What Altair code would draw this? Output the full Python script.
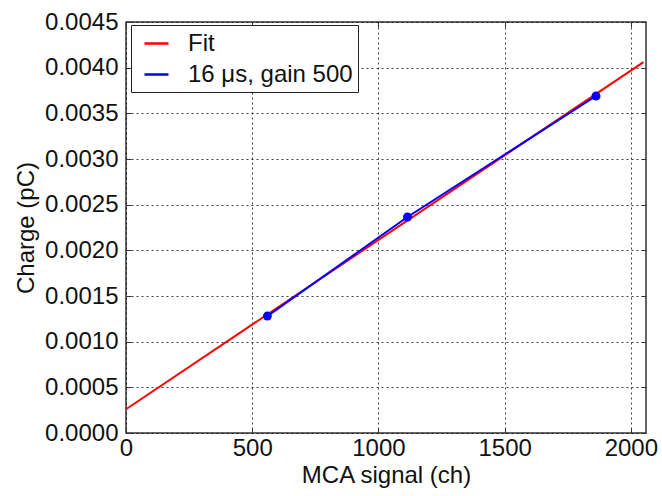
import altair as alt
import pandas as pd

# Data
data_x = [560, 1115, 1862]
data_y = [0.00128, 0.002365, 0.00369]
fit_x = [0, 2050]
fit_y = [0.00026, 0.00406]
x_ticks = [0, 500, 1000, 1500, 2000]
y_ticks = [0.0, 0.0005, 0.001, 0.0015, 0.002, 0.0025, 0.003, 0.0035, 0.004, 0.0045]
series_names = ["Fit", "16 \u03bcs, gain 500"]
series_colors = ["#ff0000", "#0000ff"]

FONT = "Liberation Sans"
FS = 24

df_data = pd.DataFrame({"x": data_x, "y": data_y})
df_fit = pd.DataFrame({"x": fit_x, "y": fit_y})

xscale = alt.Scale(domain=[0, 2060], nice=False, zero=False)
yscale = alt.Scale(domain=[0, 0.0045], nice=False)

main_xaxis = alt.Axis(
    title="MCA signal (ch)", values=x_ticks, format="d", grid=True,
    gridColor="#000000", gridDash=[2, 3], gridOpacity=0.75, gridWidth=1,
    domain=False, offset=-5, tickSize=5, tickColor="#333333", tickWidth=1,
    labelPadding=3, labelFontSize=FS, labelFont=FONT, labelColor="#111111",
    titleFontSize=FS, titleFont=FONT, titleFontWeight="normal", titleColor="#111111",
    titlePadding=3, labelFlush=False,
)
main_yaxis = alt.Axis(
    title="Charge (pC)", values=y_ticks, format=".4f", grid=True,
    gridColor="#000000", gridDash=[2, 3], gridOpacity=0.75, gridWidth=1,
    domain=False, offset=-5, tickSize=5, tickColor="#333333", tickWidth=1,
    labelPadding=8, labelFontSize=FS, labelFont=FONT, labelColor="#111111",
    titleFontSize=FS, titleFont=FONT, titleFontWeight="normal", titleColor="#111111",
    titlePadding=6, labelFlush=False,
)

color_scale = alt.Scale(domain=series_names, range=series_colors)
legend = alt.Legend(
    title=None, orient="none", legendX=5, legendY=3,
    symbolType="stroke", symbolSize=576, symbolStrokeWidth=2.5, symbolOffset=7,
    labelFontSize=FS, labelFont=FONT, labelColor="#111111", labelLimit=400,
    strokeColor="#222222", fillColor="#ffffff", padding=5,
    rowPadding=5, labelOffset=18, cornerRadius=0,
)

fit = alt.Chart(df_fit).mark_line(strokeWidth=2).encode(
    x=alt.X("x:Q", scale=xscale, axis=main_xaxis),
    y=alt.Y("y:Q", scale=yscale, axis=main_yaxis),
    color=alt.Color("s:N", scale=color_scale, legend=legend),
).transform_calculate(s="'Fit'")

line = alt.Chart(df_data).mark_line(strokeWidth=2).encode(
    x=alt.X("x:Q", scale=xscale, axis=None),
    y=alt.Y("y:Q", scale=yscale, axis=None),
    color=alt.Color("s:N", scale=color_scale, legend=legend),
).transform_calculate(s="'16 \u03bcs, gain 500'")

pts = alt.Chart(df_data).mark_point(filled=True, size=80, opacity=1, color="#0000ff").encode(
    x=alt.X("x:Q", scale=xscale, axis=None),
    y=alt.Y("y:Q", scale=yscale, axis=None),
)

side_axes = alt.Chart(df_fit).mark_point(opacity=0).encode(
    x=alt.X("x:Q", scale=xscale, axis=alt.Axis(
        orient="top", title=None, labels=False, values=x_ticks, grid=False,
        domain=False, offset=-5, tickSize=5, tickColor="#333333")),
    y=alt.Y("y:Q", scale=yscale, axis=alt.Axis(
        orient="right", title=None, labels=False, values=y_ticks, grid=False,
        domain=False, offset=-5, tickSize=5, tickColor="#333333")),
)

chart = alt.layer(fit, line, pts, side_axes).resolve_axis(
    x="independent", y="independent"
).properties(
    width=520, height=411,
    autosize=alt.AutoSizeParams(type="none"),
    padding={"left": 126, "top": 22, "right": 16, "bottom": 63},
    background="#ffffff",
).configure_view(
    stroke="#333333", strokeWidth=1.5,
)

chart.save("out.html", embed_options={"renderer": "svg", "actions": False})
